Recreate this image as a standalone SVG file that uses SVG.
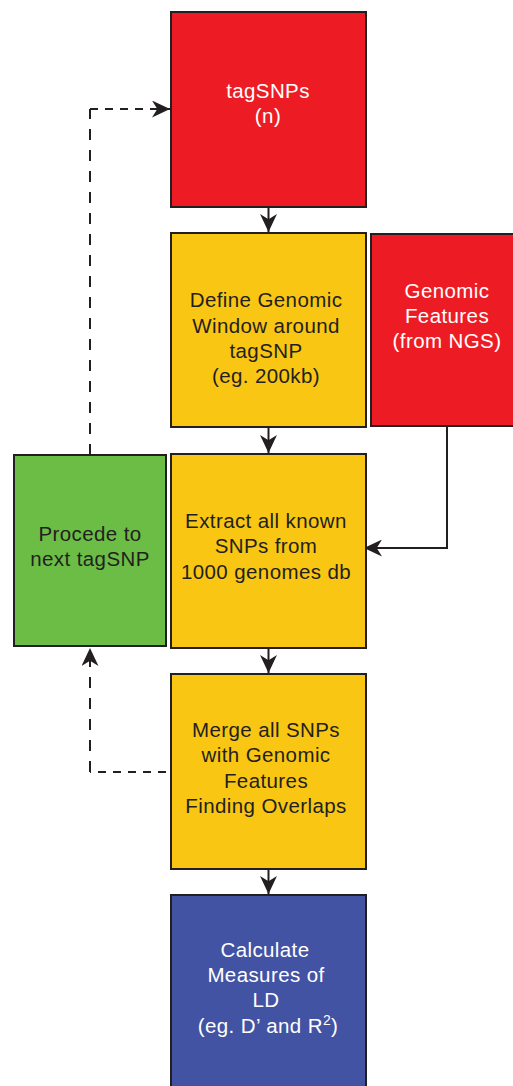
<svg xmlns="http://www.w3.org/2000/svg" width="513" height="1086" viewBox="0 0 513 1086">
  <style>
    .box { stroke: #231F20; stroke-width: 2; }
    .red { fill: #ED1C24; }
    .yellow { fill: #F9C613; }
    .green { fill: #6BBD45; }
    .blue { fill: #4353A3; }
    .lbl { font-family: "Liberation Sans", Arial, Helvetica, sans-serif; font-size: 20.5px; letter-spacing: 0.4px; text-anchor: middle; }
    .dark { fill: #231F20; }
    .light { fill: #FFFFFF; }
    .link { fill: none; stroke: #231F20; stroke-width: 2; }
    .dashv { stroke-dasharray: 11 10; }
    .dashh { stroke-dasharray: 8 7; }
  </style>
  <defs>
    <marker id="arrow" viewBox="0 0 17 16" refX="17" refY="8" markerWidth="18" markerHeight="17" markerUnits="userSpaceOnUse" orient="auto">
      <path d="M0,0 L17,8 L0,16 L5,8 Z" fill="#231F20"/>
    </marker>
  </defs>

  <rect width="513" height="1086" fill="#FFFFFF"/>

  <g id="connectors">
    <!-- main flow -->
    <line class="link" x1="268.5" y1="207" x2="268.5" y2="232" marker-end="url(#arrow)"/>
    <line class="link" x1="268.5" y1="427" x2="268.5" y2="453" marker-end="url(#arrow)"/>
    <line class="link" x1="268.5" y1="648" x2="268.5" y2="673" marker-end="url(#arrow)"/>
    <line class="link" x1="268.5" y1="869" x2="268.5" y2="894" marker-end="url(#arrow)"/>
    <!-- genomic features into extraction step -->
    <polyline class="link" points="447,426 447,548 364,548" marker-end="url(#arrow)"/>
    <!-- loop back to next tagSNP -->
    <line class="link dashv" x1="90" y1="455" x2="90" y2="109"/>
    <line class="link dashh" x1="90" y1="109" x2="170" y2="109" marker-end="url(#arrow)"/>
    <line class="link dashh" x1="166" y1="772" x2="90" y2="772"/>
    <line class="link dashv" x1="90" y1="772" x2="90" y2="648" marker-end="url(#arrow)"/>
  </g>

  <g id="tagsnps">
    <rect class="box red" x="171" y="12" width="195" height="195"/>
    <text class="lbl light" x="268" y="98">tagSNPs</text>
    <text class="lbl light" x="268" y="123">(n)</text>
  </g>

  <g id="define-window">
    <rect class="box yellow" x="171" y="233" width="195" height="194"/>
    <text class="lbl dark" x="266" y="307">Define Genomic</text>
    <text class="lbl dark" x="266" y="333">Window around</text>
    <text class="lbl dark" x="266" y="358">tagSNP</text>
    <text class="lbl dark" x="266" y="383">(eg. 200kb)</text>
  </g>

  <g id="genomic-features">
    <rect class="box red" x="371" y="234" width="151" height="192"/>
    <text class="lbl light" x="447" y="298">Genomic</text>
    <text class="lbl light" x="447" y="323">Features</text>
    <text class="lbl light" x="447" y="348">(from NGS)</text>
  </g>

  <g id="extract-snps">
    <rect class="box yellow" x="171" y="454" width="195" height="194"/>
    <text class="lbl dark" x="266" y="528">Extract all known</text>
    <text class="lbl dark" x="266" y="553">SNPs from</text>
    <text class="lbl dark" x="266" y="579">1000 genomes db</text>
  </g>

  <g id="next-tagsnp">
    <rect class="box green" x="14" y="455" width="152" height="191"/>
    <text class="lbl dark" x="90" y="541">Procede to</text>
    <text class="lbl dark" x="90" y="566">next tagSNP</text>
  </g>

  <g id="merge-snps">
    <rect class="box yellow" x="171" y="674" width="195" height="195"/>
    <text class="lbl dark" x="266" y="737">Merge all SNPs</text>
    <text class="lbl dark" x="266" y="762">with Genomic</text>
    <text class="lbl dark" x="266" y="788">Features</text>
    <text class="lbl dark" x="266" y="813">Finding Overlaps</text>
  </g>

  <g id="calculate-ld">
    <rect class="box blue" x="171" y="895" width="195" height="200"/>
    <text class="lbl light" x="265" y="957">Calculate</text>
    <text class="lbl light" x="266" y="982">Measures of</text>
    <text class="lbl light" x="266" y="1007">LD</text>
    <text class="lbl light" x="268" y="1033">(eg. D’ and R<tspan font-size="14" dy="-8">2</tspan><tspan dy="8">)</tspan></text>
  </g>
</svg>
